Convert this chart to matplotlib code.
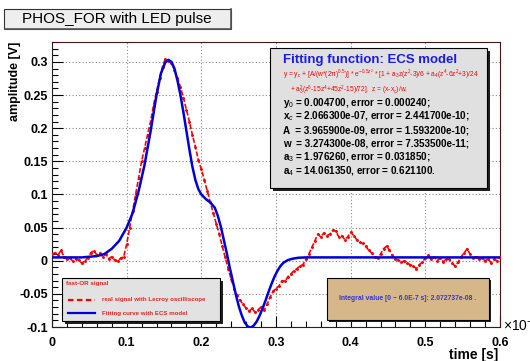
import numpy as np
import matplotlib
matplotlib.use('Agg')
from matplotlib import pyplot as plt
from matplotlib.patches import Rectangle
from matplotlib.lines import Line2D
from matplotlib.ticker import MultipleLocator

plt.rcParams['font.family'] = ['Liberation Sans', 'DejaVu Sans']
plt.rcParams['mathtext.fontset'] = 'custom'
plt.rcParams['mathtext.rm'] = 'Liberation Sans'
plt.rcParams['mathtext.it'] = 'Liberation Sans:italic'
plt.rcParams['mathtext.bf'] = 'Liberation Sans:bold'

# oscilloscope trace, sampled every 0.004 (x 1e-6 s) from 0 to 0.6
signal_v = [
    0.010, 0.012, 0.008, 0.016, 0.006, 0.002, 0.004, -0.001, 0.003, 0.001,
    -0.004, 0.000, 0.004, 0.012, 0.015, 0.009, 0.012, 0.006, 0.010, 0.003,
    0.006, 0.001, -0.001, 0.004, 0.006, 0.025, 0.050, 0.075, 0.100, 0.125,
    0.150, 0.170, 0.190, 0.210, 0.235, 0.255, 0.275, 0.293, 0.305, 0.302,
    0.298, 0.288, 0.276, 0.262, 0.246, 0.228, 0.210, 0.190, 0.172, 0.152,
    0.138, 0.122, 0.105, 0.088, 0.072, 0.056, 0.040, 0.022, 0.005, -0.012,
    -0.028, -0.042, -0.052, -0.060, -0.066, -0.072, -0.076, -0.072, -0.078, -0.074,
    -0.070, -0.075, -0.066, -0.055, -0.046, -0.042, -0.038, -0.030, -0.031, -0.024,
    -0.020, -0.015, -0.012, -0.008, -0.006, 0.002, 0.010, 0.020, 0.030, 0.040,
    0.036, 0.042, 0.038, 0.040, 0.046, 0.045, 0.036, 0.038, 0.032, 0.036,
    0.043, 0.038, 0.032, 0.028, 0.026, 0.022, 0.016, 0.012, 0.006, 0.004,
    0.010, 0.018, 0.022, 0.016, 0.008, 0.002, 0.001, -0.002, 0.000, -0.004,
    -0.006, -0.008, -0.012, -0.006, -0.002, 0.004, 0.008, 0.002, 0.006, 0.000,
    0.004, -0.002, 0.003, 0.002, -0.004, -0.008, -0.002, 0.006, 0.012, 0.018,
    0.010, 0.004, 0.006, 0.002, 0.004, 0.000, 0.003, -0.003, 0.002, 0.000,
    0.006,
]
signal_t = np.linspace(0, 0.6, len(signal_v))

# fitted ECS model curve
fit_t = [0.000, 0.040, 0.060, 0.070, 0.080, 0.090, 0.100, 0.108, 0.116, 0.124,
         0.132, 0.140, 0.146, 0.152, 0.156, 0.160, 0.164, 0.168, 0.172, 0.176,
         0.180, 0.184, 0.188, 0.192, 0.196, 0.200, 0.206, 0.212, 0.218, 0.222,
         0.226, 0.230, 0.234, 0.238, 0.242, 0.246, 0.250, 0.254, 0.258, 0.262,
         0.266, 0.270, 0.274, 0.278, 0.282, 0.286, 0.290, 0.294, 0.298, 0.302,
         0.306, 0.310, 0.316, 0.322, 0.330, 0.340, 0.600]
fit_v = [0.005, 0.005, 0.007, 0.010, 0.018, 0.030, 0.050, 0.072, 0.105, 0.145,
         0.195, 0.250, 0.283, 0.300, 0.303, 0.300, 0.290, 0.272, 0.250, 0.224,
         0.196, 0.168, 0.142, 0.122, 0.108, 0.100, 0.093, 0.088, 0.080, 0.068,
         0.052, 0.032, 0.012, -0.010, -0.030, -0.050, -0.068, -0.082, -0.093, -0.099,
         -0.101, -0.098, -0.092, -0.083, -0.072, -0.060, -0.047, -0.035, -0.024, -0.015,
         -0.008, -0.003, 0.001, 0.003, 0.0045, 0.005, 0.005]

fit_lines = [
    'y$_0$ = 0.004700, error = 0.000240;',
    'x$_c$ = 2.066300e-07, error = 2.441700e-10;',
    'A  = 3.965900e-09, error = 1.593200e-10;',
    'w  = 3.274300e-08, error = 7.353500e-11;',
    'a$_3$ = 1.976260, error = 0.031850;',
    'a$_4$ = 14.061350, error = 0.621100.',
]
formula_lines = [
    'y = y$_c$ + [A/(w*(2\u03c0)$^{0.5}$)] * e$^{-0.5z^2}$ * [1 + a$_3$z(z$^2$-3)/6 + a$_4$(z$^4$-6z$^2$+3)/24',
    '+ a$_3^2$(z$^6$-15z$^4$+45z$^2$-15)/72],  z = (x-x$_c$)/w.',
]

W, H = 530, 361
fig = plt.figure(figsize=(W / 100, H / 100), dpi=100)
fig.patch.set_facecolor('white')


def fx(x):
    return x / W


def fy(y):
    return 1 - y / H


def box(x0, y0, x1, y1, fc, shadow=3, ec='black', lw=0.8, z=5):
    if shadow:
        fig.add_artist(Rectangle((fx(x0 + shadow), fy(y1 + shadow)), fx(x1 - x0), (y1 - y0) / H,
                                 transform=fig.transFigure, fc='#202020', ec='none', zorder=z))
    fig.add_artist(Rectangle((fx(x0), fy(y1)), fx(x1 - x0), (y1 - y0) / H,
                             transform=fig.transFigure, fc=fc, ec=ec, lw=lw, zorder=z + 0.1))


ax = fig.add_axes([fx(52), fy(327), fx(500 - 52), (327 - 42) / H])
ax.plot(signal_t, signal_v, color='red', lw=1.2, dashes=(3, 1.2), marker='.', ms=2.2, zorder=3)
ax.plot(fit_t, fit_v, color='#0000dd', lw=1.8, zorder=4)

ax.set_xlim(0, 0.6)
ax.set_ylim(-0.1, 0.33)
ax.xaxis.set_major_locator(MultipleLocator(0.1))
ax.xaxis.set_minor_locator(MultipleLocator(0.02))
ax.yaxis.set_major_locator(MultipleLocator(0.05))
ax.yaxis.set_minor_locator(MultipleLocator(0.01))
ax.tick_params(which='both', direction='in', top=False, right=False, width=0.8)
ax.tick_params(which='major', length=8, labelsize=9)
ax.tick_params(which='minor', length=4)
ax.tick_params(axis='x', pad=7)
ax.tick_params(axis='y', pad=3)
ax.set_xticks([0, 0.1, 0.2, 0.3, 0.4, 0.5, 0.6])
ax.set_xticklabels(['0', '0.1', '0.2', '0.3', '0.4', '0.5', '0.6'])
ax.set_yticks([-0.1, -0.05, 0, 0.05, 0.1, 0.15, 0.2, 0.25, 0.3])
ax.set_yticklabels(['-0.1', '-0.05', '0', '0.05', '0.1', '0.15', '0.2', '0.25', '0.3'])
for lab in ax.get_xticklabels() + ax.get_yticklabels():
    lab.set_fontweight('bold')
ax.grid(True, which='major', color='#888888', linestyle=(0, (1, 2)), lw=0.8)
for side in ('top', 'right'):
    ax.spines[side].set_color('#4a1515')
ax.spines['left'].set_color('#222222')
ax.spines['bottom'].set_color('#222222')

fig.text(fx(15), fy(42), 'amplitude [V]', rotation=90, ha='center', va='top',
         fontsize=9, fontweight='bold')
fig.text(fx(498), fy(355), 'time [s]', ha='right', va='center', fontsize=10, fontweight='bold')
fig.text(fx(503), fy(325), '$\\times$10$^{-6}$', ha='left', va='center', fontsize=10)

# title box
box(4, 9, 231, 29, '#eeeeee', shadow=0, ec='#333333', lw=0.8)
fig.add_artist(Line2D([fx(5), fx(231), fx(231)], [fy(29), fy(29), fy(9)],
                      transform=fig.transFigure, color='#555555', lw=1.2, zorder=6))
fig.text(fx(117), fy(19.5), 'PHOS_FOR with LED pulse', ha='center', va='center',
         fontsize=11, zorder=7)

# fit result box
box(270, 48, 487, 188, '#e0e0e0', shadow=3)
fig.text(fx(283), fy(60), 'Fitting function: ECS model', ha='left', va='center',
         fontsize=9.5, fontweight='bold', color='#1a1aee', zorder=7)
fig.text(fx(283), fy(75), formula_lines[0], ha='left', va='center', fontsize=4.8,
         color='red', zorder=7)
fig.text(fx(290), fy(90), formula_lines[1], ha='left', va='center', fontsize=4.8,
         color='red', zorder=7)
for i, line in enumerate(fit_lines):
    fig.text(fx(283), fy(103 + 13.6 * i), line, ha='left', va='center', fontsize=7.1,
             fontweight='bold', color='black', zorder=7)

# integral box
box(327, 278, 489, 320, '#d6b78a', shadow=2)
fig.text(fx(408), fy(299), 'Integral value [0 ~ 6.0E-7 s]: 2.072737e-08 .', ha='center',
         va='center', fontsize=4.9, fontweight='bold', color='#3535dd', zorder=7)

# legend box
box(62, 278, 220, 321, '#e2e2e2', shadow=3)
fig.text(fx(66), fy(284), 'fast-OR signal', ha='left', va='center', fontsize=4.5,
         fontweight='bold', color='#ee2222', zorder=7)
fig.add_artist(Line2D([fx(68), fx(95)], [fy(300), fy(300)], transform=fig.transFigure,
                      color='red', lw=1.6, dashes=(2.5, 1.5), zorder=7))
fig.text(fx(102), fy(300), 'real signal with Lecroy oscilliscope', ha='left', va='center',
         fontsize=4.4, fontweight='bold', color='#ee2222', zorder=7)
fig.add_artist(Line2D([fx(68), fx(95)], [fy(313), fy(313)], transform=fig.transFigure,
                      color='#0000dd', lw=1.6, zorder=7))
fig.text(fx(102), fy(313), 'Fitting curve with ECS model', ha='left', va='center',
         fontsize=4.4, fontweight='bold', color='#ee2222', zorder=7)

fig.savefig('out.png', dpi=100)
